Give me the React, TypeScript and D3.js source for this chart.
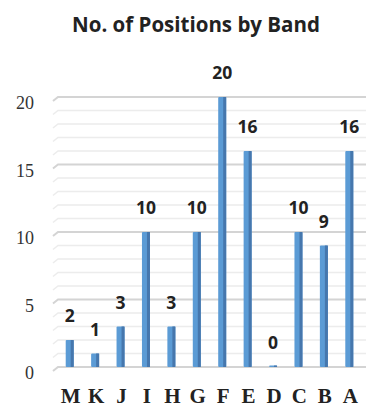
import React from "react";
import * as d3 from "d3";

const bands = ["M", "K", "J", "I", "H", "G", "F", "E", "D", "C", "B", "A"];
const positions = [2, 1, 3, 10, 3, 10, 20, 16, 0, 10, 9, 16];
const yTicks = [0, 5, 10, 15, 20];
const title = "No. of Positions by Band";

const W = 366;
const H = 407;

export default function App() {
  const x = d3.scalePoint<string>().domain(bands).range([57, 362]).padding(0.5);
  const y = d3.scaleLinear().domain([0, 20]).range([367, 97]);
  const grid = d3.range(0, 21);
  const barW = 8;

  return (
    <svg width={W} height={H} style={{ position: "absolute", left: 0, top: 0, background: "#fff" }}>
      <text
        x={196}
        y={32}
        textAnchor="middle"
        fontFamily="'Open Sans', sans-serif"
        fontWeight="bold"
        fontSize={20.5}
        fill="#222"
      >
        {title}
      </text>

      {/* back-wall gridlines with a slanted left edge */}
      {grid.map((v) => {
        const yy = y(v);
        const major = v % 5 === 0;
        return (
          <path
            key={v}
            d={`M53,${yy + 4} L58,${yy} L366,${yy}`}
            fill="none"
            stroke={major ? "#d4d4d4" : "#ececec"}
            strokeWidth={major ? 2 : 1.5}
          />
        );
      })}

      {yTicks.map((t) => (
        <text
          key={t}
          x={34}
          y={y(t) + 12}
          textAnchor="end"
          fontFamily="'Liberation Serif', serif"
          fontSize={18}
          fill="#333"
        >
          {t}
        </text>
      ))}

      {bands.map((b, i) => {
        const cx = x(b)!;
        const top = y(positions[i]);
        const h = Math.max(y(0) - top, 1.5);
        return (
          <g key={b}>
            <rect x={cx - barW / 2} y={y(0) - h} width={barW} height={h} fill="#5b9bd5" rx={1} />
            <rect x={cx + barW / 2 - 3} y={y(0) - h} width={3} height={h} fill="#4677ad" />
            <text
              x={cx}
              y={top - 18}
              textAnchor="middle"
              fontFamily="'Open Sans', sans-serif"
              fontWeight="bold"
              fontSize={17.5}
              fill="#222"
            >
              {positions[i]}
            </text>
            <text
              x={cx + 1}
              y={403}
              textAnchor="middle"
              fontFamily="'Liberation Serif', serif"
              fontWeight="bold"
              fontSize={21}
              fill="#222"
            >
              {b}
            </text>
          </g>
        );
      })}
    </svg>
  );
}
